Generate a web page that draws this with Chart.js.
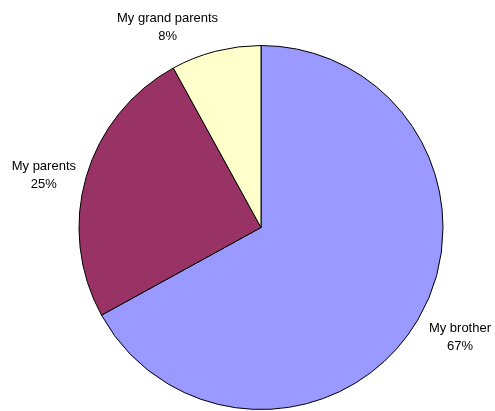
<!DOCTYPE html>
<html>
<head>
<meta charset="utf-8">
<script src="https://cdn.jsdelivr.net/npm/chart.js@4/dist/chart.umd.min.js"></script>
<style>
  html, body { margin: 0; padding: 0; background: #fff; }
  #wrap { width: 495px; height: 411px; }
</style>
</head>
<body>
<div id="wrap"><canvas id="myChart" width="495" height="411"></canvas></div>
<script>
const labelsArr = ['My brother', 'My parents', 'My grand parents'];
const dataArr = [67, 25, 8];
const colorArr = ['#9999FF', '#993366', '#FFFFCC'];

// small nudges so the outside labels don't crowd the arc
const labelNudge = [[7, -4], [-3, 10], [-38, 16]];

// name + percentage written outside each slice, along its middle angle
const outsideLabels = {
    id: 'outsideLabels',
    afterDatasetsDraw(chart) {
        const c = chart.ctx;
        const meta = chart.getDatasetMeta(0);
        const total = dataArr.reduce((a, b) => a + b, 0);
        c.save();
        c.font = '13px "Liberation Sans", Arial, sans-serif';
        c.fillStyle = '#000';
        c.textAlign = 'center';
        c.textBaseline = 'middle';
        meta.data.forEach((arc, i) => {
            const p = arc.getProps(['x', 'y', 'startAngle', 'endAngle', 'outerRadius'], true);
            const mid = (p.startAngle + p.endAngle) / 2;
            const r = p.outerRadius + 41;
            const x = p.x + Math.cos(mid) * r + labelNudge[i][0];
            const y = p.y + Math.sin(mid) * r + labelNudge[i][1];
            const pct = Math.round(dataArr[i] / total * 100) + '%';
            c.fillText(labelsArr[i], x, y - 9);
            c.fillText(pct, x, y + 9);
        });
        c.restore();
    }
};

var ctx = document.getElementById('myChart');
var myChart = new Chart(ctx, {
    type: 'pie',
    data: {
        labels: labelsArr,
        datasets: [{
            data: dataArr,
            backgroundColor: colorArr,
            borderColor: '#000',
            borderWidth: 1
        }]
    },
    options: {
        responsive: false,
        animation: false,
        layout: {
            padding: { top: 45, bottom: 1, left: 78, right: 51 }
        },
        plugins: {
            legend: { display: false },
            tooltip: { enabled: false }
        }
    },
    plugins: [outsideLabels]
});
</script>
</body>
</html>
